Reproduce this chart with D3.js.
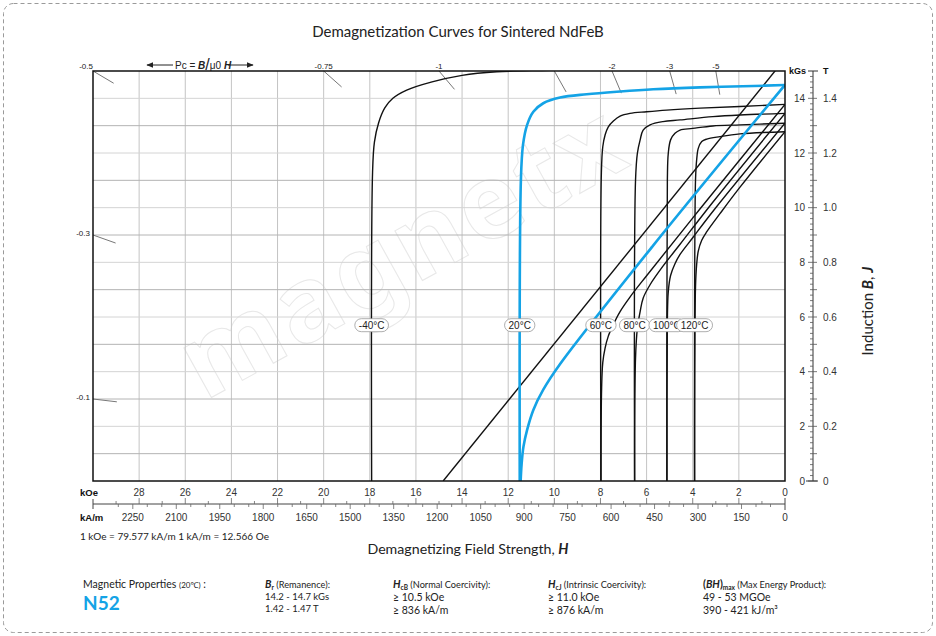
<!DOCTYPE html>
<html><head><meta charset="utf-8">
<script src="https://cdn.jsdelivr.net/npm/d3@7"></script>
<style>body{margin:0;background:#fff}</style>
</head><body>
<svg id="c" width="936" height="636"></svg>
<script>
// ---------- data ----------
const kOeTicks = [28,26,24,22,20,18,16,14,12,10,8,6,4,2,0];
const kAmTicks = [2250,2100,1950,1800,1650,1500,1350,1200,1050,900,750,600,450,300,150,0];
const kGsTicks = [0,2,4,6,8,10,12,14];
const teslaLabels = ["0","0.2","0.4","0.6","0.8","1.0","1.2","1.4"];
const pcValues = [0.5,0.3,0.1,0.75,1,1.5,2,3,5];
const pcLabels = ["-0.5","-0.3","-0.1","-0.75","-1","","-2","-3","-5"];
const temps = ["-40°C","20°C","60°C","80°C","100°C","120°C"];
// intrinsic (J) curves, [H kOe, kGs]
const jM40 = [[0,15.3],[5,15.15],[10,15.03],[12.5,14.97],[14.0,14.84],[15.3,14.6],[16.4,14.3],[17.0,14.0],[17.35,13.65],[17.62,13.1],[17.8,12.4],[17.88,11.3],[17.92,0]];
const j20  = [[0,14.49],[1.37,14.45],[3.68,14.40],[5.71,14.33],[7.15,14.25],[8.6,14.15],[9.75,14.03],[10.48,13.82],[10.91,13.51],[11.18,13.03],[11.36,12.29],[11.45,11.0],[11.5,0]];
const j60  = [[0,13.78],[1.95,13.70],[3.68,13.64],[5.13,13.57],[6.0,13.51],[6.72,13.45],[7.15,13.35],[7.44,13.17],[7.66,12.96],[7.8,12.66],[7.9,12.23],[7.96,11.3],[7.98,0]];
const j80  = [[0,13.45],[1.95,13.39],[3.13,13.33],[4.55,13.21],[5.29,13.15],[5.85,13.03],[6.15,12.84],[6.28,12.48],[6.4,11.99],[6.48,11.0],[6.52,0]];
const j100 = [[0,13.09],[1.95,13.03],[3.13,12.99],[4.0,12.9],[4.55,12.84],[4.77,12.72],[4.96,12.48],[5.06,11.99],[5.1,11.0],[5.12,0]];
const j120 = [[0,12.78],[1.95,12.70],[2.82,12.6],[3.39,12.51],[3.61,12.42],[3.76,12.17],[3.83,11.75],[3.88,11.0],[3.92,0]];
// normal (B) curves
const bM40 = [[0,15.45],[14.82,0]];
const b20  = [[0,14.49],[5.71,8.62],[9.75,4.28],[10.48,3.34],[10.91,2.6],[11.18,1.87],[11.34,1.25],[11.42,0.6],[11.46,0]];
const b60  = [[0,13.78],[3.68,9.96],[6.0,7.51],[6.72,6.73],[7.15,6.2],[7.44,5.73],[7.66,5.3],[7.8,4.86],[7.9,4.33],[7.95,3.4],[7.98,0]];
const b80  = [[0,13.45],[3.13,10.2],[4.55,8.66],[5.29,7.86],[5.85,7.18],[6.15,6.69],[6.28,6.2],[6.4,5.59],[6.48,4.5],[6.52,0]];
const b100 = [[0,13.09],[3.13,9.86],[4.0,8.9],[4.55,8.29],[4.77,7.95],[4.96,7.52],[5.06,6.93],[5.1,5.9],[5.12,0]];
const b120 = [[0,12.78],[1.95,10.75],[2.82,9.78],[3.39,9.12],[3.61,8.81],[3.76,8.41],[3.83,7.92],[3.88,7.1],[3.92,0]];
const jCurves = [jM40,j20,j60,j80,j100,j120];
const bCurves = [bM40,b20,b60,b80,b100,b120];

// ---------- drawing ----------
const svg = d3.select("#c");
const W=936,H=636;
const L=93,R=785,T=71,B=481;
const x = d3.scaleLinear().domain([30,0]).range([L,R]);
const y = d3.scaleLinear().domain([0,15]).range([B,T]);
const xA = d3.scaleLinear().domain([30*79.577,0]).range([L,R]);
const yT = d3.scaleLinear().domain([0,1.5]).range([B,T]);
const blue = "#14a3e6";
const numFont = "'Liberation Sans', Arial, sans-serif";
const txtFont = "Lato, 'Noto Sans', sans-serif";

svg.append("rect").attr("x",3.5).attr("y",3.5).attr("width",W-7).attr("height",H-7)
  .attr("rx",10).attr("fill","none").attr("stroke","#9a9a9a").attr("stroke-dasharray","4,3");

// title
svg.append("text").attr("x",458).attr("y",37).attr("text-anchor","middle")
  .attr("font-family",txtFont).attr("font-size",15).attr("fill","#222")
  .text("Demagnetization Curves for Sintered NdFeB");

// watermark
svg.append("text").attr("transform","translate(420,282) rotate(-29)").attr("text-anchor","middle")
  .attr("font-family","'Noto Sans', sans-serif").attr("font-size",104).attr("font-weight","bold")
  .attr("fill","none").attr("stroke","#e8e8e8").attr("stroke-width",1).attr("letter-spacing",4)
  .text("magnetx");

// grid
const g = svg.append("g");
g.selectAll(".vg").data(d3.range(2,30,2)).join("line")
  .attr("x1",d=>x(d)).attr("x2",d=>x(d)).attr("y1",T).attr("y2",B)
  .attr("stroke","#c4c4c4").attr("stroke-width",1);
g.selectAll(".hg").data(d3.range(1,15)).join("line")
  .attr("x1",L).attr("x2",R).attr("y1",d=>y(d)).attr("y2",d=>y(d))
  .attr("stroke",d=>d%2? "#b4b4b4":"#d4d4d4").attr("stroke-width",1);

// clip
svg.append("clipPath").attr("id","pa").append("rect").attr("x",L).attr("y",T).attr("width",R-L).attr("height",B-T);

// Pc ticks & labels
pcValues.forEach((p,i)=>{
  let hE, bE;
  if (p*30 <= 15) { hE=30; bE=30*p; } else { bE=15; hE=15/p; }
  const px=x(hE), py=y(bE), ox=x(0), oy=y(0);
  const dx=ox-px, dy=oy-py, len=Math.hypot(dx,dy), s=24/len;
  svg.append("line").attr("x1",px).attr("y1",py).attr("x2",px+dx*s).attr("y2",py+dy*s)
    .attr("stroke","#777").attr("stroke-width",1);
  const lab = pcLabels[i];
  if (!lab) return;
  const t = svg.append("text").attr("font-family",numFont).attr("font-size",8).attr("fill","#222").text(lab);
  if (bE < 15) t.attr("x",px-3).attr("y",py+1).attr("text-anchor","end");
  else if (hE>=30) t.attr("x",px).attr("y",py-2).attr("text-anchor","end");
  else t.attr("x",px).attr("y",py-2).attr("text-anchor","middle");
});

// Pc formula header
const pcg = svg.append("g").attr("font-family",numFont).attr("font-size",10).attr("fill","#222");
svg.append("defs").html('<marker id="ah" viewBox="0 0 10 10" refX="9" refY="5" markerWidth="7" markerHeight="7" orient="auto-start-reverse"><path d="M0,1L10,5L0,9z" fill="#222"/></marker>');
pcg.append("line").attr("x1",173).attr("x2",147).attr("y1",65).attr("y2",65).attr("stroke","#222").attr("marker-end","url(#ah)");
pcg.append("line").attr("x1",228).attr("x2",253).attr("y1",65).attr("y2",65).attr("stroke","#222").attr("marker-end","url(#ah)");
const pt = pcg.append("text").attr("x",175).attr("y",68.5);
pt.append("tspan").text("Pc = ");
pt.append("tspan").attr("font-weight","bold").attr("font-style","italic").text("B");
pt.append("tspan").attr("font-size",16).attr("dy",1).text("/");
pt.append("tspan").attr("dy",-1).text("μ0 ");
pt.append("tspan").attr("font-weight","bold").attr("font-style","italic").text("H");

// curves
const line = d3.line().x(d=>x(d[0])).y(d=>y(d[1])).curve(d3.curveCatmullRom.alpha(0.5));
const cg = svg.append("g").attr("clip-path","url(#pa)").attr("fill","none");
[0,2,3,4,5,1].forEach(i=>{
  const col = i===1? blue:"#111", w = i===1? 2.6:1.4;
  cg.append("path").attr("d",line(bCurves[i])).attr("stroke",col).attr("stroke-width",w);
  cg.append("path").attr("d",line(jCurves[i])).attr("stroke",col).attr("stroke-width",w);
});

// plot frame
svg.append("rect").attr("x",L).attr("y",T).attr("width",R-L).attr("height",B-T)
  .attr("fill","none").attr("stroke","#111").attr("stroke-width",1.5);

// temperature labels
temps.forEach((t,i)=>{
  const c = jCurves[i], hx = x(c[c.length-1][0]), yy = y(5.7);
  const lg = svg.append("g");
  const tx = lg.append("text").attr("x",hx).attr("y",yy+3.5).attr("text-anchor","middle")
    .attr("font-family",numFont).attr("font-size",10).attr("fill","#222").text(t);
  const w = tx.node().getComputedTextLength()+8;
  lg.insert("rect","text").attr("x",hx-w/2).attr("y",yy-6.5).attr("width",w).attr("height",13)
    .attr("rx",6.5).attr("fill","#fff").attr("stroke","#999").attr("stroke-width",0.8);
});

// right axis
const RA = 813;
const ra = svg.append("g").attr("font-family",numFont).attr("fill","#333");
ra.append("line").attr("x1",RA).attr("x2",RA).attr("y1",T).attr("y2",B).attr("stroke","#333");
ra.selectAll(".mt").data(d3.range(0,75)).join("line")
  .attr("x1",d=>RA-(d%10===0?5:3)).attr("x2",RA).attr("y1",d=>y(d*0.2)).attr("y2",d=>y(d*0.2))
  .attr("stroke","#555").attr("stroke-width",0.8);
ra.selectAll(".tt").data(d3.range(0,15)).join("line")
  .attr("x1",RA).attr("x2",RA+4).attr("y1",d=>yT(d*0.1)).attr("y2",d=>yT(d*0.1))
  .attr("stroke","#555").attr("stroke-width",0.8);
ra.append("line").attr("x1",RA-5).attr("x2",RA+5).attr("y1",T).attr("y2",T).attr("stroke","#333");
ra.append("line").attr("x1",RA-7).attr("x2",RA+5).attr("y1",B).attr("y2",B).attr("stroke","#333");
ra.selectAll(".kl").data(kGsTicks).join("text")
  .attr("x",RA-8).attr("y",d=>y(d)+3.5).attr("text-anchor","end").attr("font-size",10).text(d=>d);
ra.selectAll(".tl").data(teslaLabels).join("text")
  .attr("x",RA+10).attr("y",(d,i)=>yT(+d)+3.5).attr("font-size",10).text(d=>d);
ra.append("text").attr("x",RA-7).attr("y",T+3).attr("text-anchor","end").attr("font-size",9).attr("font-weight","bold").attr("fill","#111").text("kGs");
ra.append("text").attr("x",RA+10).attr("y",T+3).attr("font-size",9).attr("font-weight","bold").attr("fill","#111").text("T");
const yl = svg.append("text").attr("transform","translate(873,311) rotate(-90)").attr("text-anchor","middle")
  .attr("font-family",txtFont).attr("font-size",15).attr("fill","#222");
yl.append("tspan").text("Induction  ");
yl.append("tspan").attr("font-weight","bold").attr("font-style","italic").text("B");
yl.append("tspan").text(",  ");
yl.append("tspan").attr("font-weight","bold").attr("font-style","italic").text("J");

// bottom axis
const BA = 504;
const ba = svg.append("g").attr("font-family",numFont).attr("fill","#333");
ba.append("line").attr("x1",L).attr("x2",R).attr("y1",BA).attr("y2",BA).attr("stroke","#444");
ba.selectAll(".ko").data(d3.range(1,30)).join("line")
  .attr("x1",d=>x(d)).attr("x2",d=>x(d)).attr("y1",d=>BA-(d%2?3:6)).attr("y2",BA)
  .attr("stroke","#666").attr("stroke-width",0.8);
ba.selectAll(".ka").data(d3.range(50,2350,50)).join("line")
  .attr("x1",d=>xA(d)).attr("x2",d=>xA(d)).attr("y1",BA).attr("y2",d=>BA+(d%150?3:5))
  .attr("stroke","#666").attr("stroke-width",0.8);
ba.append("line").attr("x1",L).attr("x2",L).attr("y1",BA-5).attr("y2",BA+5).attr("stroke","#444");
ba.append("line").attr("x1",R).attr("x2",R).attr("y1",BA-6).attr("y2",BA+6).attr("stroke","#444");
ba.selectAll(".kol").data(kOeTicks).join("text")
  .attr("x",d=>x(d)).attr("y",496).attr("text-anchor","middle").attr("font-size",10).text(d=>d);
ba.selectAll(".kal").data(kAmTicks).join("text")
  .attr("x",d=>xA(d)).attr("y",521).attr("text-anchor","middle").attr("font-size",10).text(d=>d);
ba.append("text").attr("x",80).attr("y",496).attr("font-size",9.5).attr("font-weight","bold").attr("fill","#111").text("kOe");
ba.append("text").attr("x",80).attr("y",521).attr("font-size",9.5).attr("font-weight","bold").attr("fill","#111").text("kA/m");
svg.append("text").attr("x",80).attr("y",540).attr("font-family",txtFont).attr("font-size",10).attr("fill","#222")
  .text("1 kOe = 79.577 kA/m   1 kA/m = 12.566 Oe");
const xl = svg.append("text").attr("x",468).attr("y",554).attr("text-anchor","middle")
  .attr("font-family",txtFont).attr("font-size",14.2).attr("fill","#222");
xl.append("tspan").text("Demagnetizing Field Strength, ");
xl.append("tspan").attr("font-weight","bold").attr("font-style","italic").text("H");

// properties
const pf = svg.append("g").attr("font-family",txtFont).attr("fill","#222");
const p0 = pf.append("text").attr("x",83).attr("y",588).attr("font-size",10.5);
p0.append("tspan").text("Magnetic Properties ");
p0.append("tspan").attr("font-size",8).text("(20℃)");
p0.append("tspan").text(" :");
pf.append("text").attr("x",83).attr("y",610).attr("font-size",19).attr("font-weight","bold").attr("fill",blue).text("N52");

function head(xx, sym, sub, rest){
  const t = pf.append("text").attr("x",xx).attr("y",588).attr("font-size",9.2);
  t.append("tspan").attr("font-weight","bold").attr("font-style","italic").attr("font-size",10.5).text(sym);
  if (sub) t.append("tspan").attr("font-weight","bold").attr("font-size",6.5).attr("dy",1.5).text(sub);
  t.append("tspan").attr("dy",sub?-1.5:0).text(" "+rest);
}
head(265,"B","r","(Remanence):");
pf.append("text").attr("x",265).attr("y",600).attr("font-size",9.5).text("14.2 - 14.7 kGs");
pf.append("text").attr("x",265).attr("y",612).attr("font-size",9.5).text("1.42 - 1.47 T");
head(393,"H","cB","(Normal Coercivity):");
pf.append("text").attr("x",393).attr("y",601).attr("font-size",10.5).text("≥ 10.5 kOe");
pf.append("text").attr("x",393).attr("y",614).attr("font-size",10.5).text("≥ 836 kA/m");
head(548,"H","cJ","(Intrinsic Coercivity):");
pf.append("text").attr("x",548).attr("y",601).attr("font-size",10.5).text("≥ 11.0 kOe");
pf.append("text").attr("x",548).attr("y",614).attr("font-size",10.5).text("≥ 876 kA/m");
const bh = pf.append("text").attr("x",703).attr("y",588).attr("font-size",9.2);
bh.append("tspan").attr("font-weight","bold").attr("font-size",10.5).text("(");
bh.append("tspan").attr("font-weight","bold").attr("font-style","italic").attr("font-size",10.5).text("BH");
bh.append("tspan").attr("font-weight","bold").attr("font-size",10.5).text(")");
bh.append("tspan").attr("font-weight","bold").attr("font-size",6.5).attr("dy",1.5).text("max");
bh.append("tspan").attr("dy",-1.5).text(" (Max Energy Product):");
pf.append("text").attr("x",703).attr("y",601).attr("font-size",10.5).text("49 - 53 MGOe");
pf.append("text").attr("x",703).attr("y",614).attr("font-size",10.5).text("390 - 421 kJ/m³");
</script>
</body></html>
